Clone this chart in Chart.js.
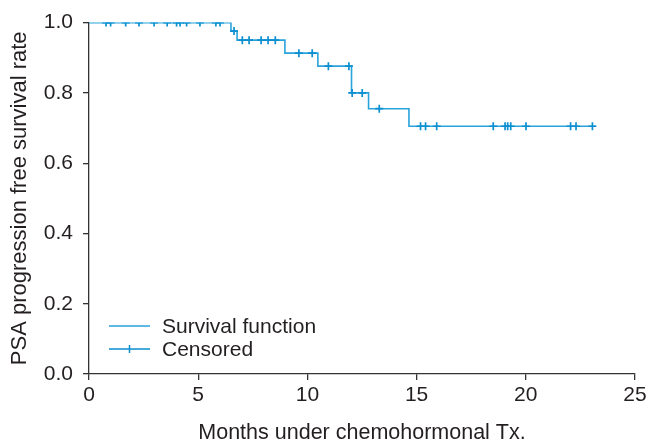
<!DOCTYPE html>
<html>
<head>
<meta charset="utf-8">
<script src="https://cdn.jsdelivr.net/npm/chart.js@4/dist/chart.umd.min.js"></script>
<style>
  body { margin: 0; background: #fff; }
  #wrap { width: 651px; height: 440px; }
</style>
</head>
<body>
<div id="wrap"><canvas id="kmChart" width="651" height="440"></canvas></div>
<script>
// Kaplan-Meier step points (time in months, survival)
const stepTimes = [0, 6.5, 6.78, 8.97, 10.48, 12.02, 12.8, 14.65, 23.2];
const stepSurvival = [1.0, 0.976, 0.95, 0.913, 0.876, 0.80, 0.755, 0.705, 0.705];

// censored observations
const censorTimes = [0.78, 0.99, 1.68, 2.29, 2.98, 3.58, 4.01, 4.17, 4.47, 5.08, 5.81, 6.0,
  6.64,
  7.02, 7.33, 7.88, 8.2, 8.53,
  9.61, 10.22,
  10.96, 11.9,
  12.05, 12.51,
  13.29,
  15.18, 15.41, 15.92, 18.51, 19.05, 19.17, 19.31, 20.01, 22.05, 22.3, 23.05];
const censorSurvival = [1, 1, 1, 1, 1, 1, 1, 1, 1, 1, 1, 1,
  0.976,
  0.95, 0.95, 0.95, 0.95, 0.95,
  0.913, 0.913,
  0.876, 0.876,
  0.80, 0.80,
  0.755,
  0.705, 0.705, 0.705, 0.705, 0.705, 0.705, 0.705, 0.705, 0.705, 0.705, 0.705];

const xTicks = [0, 5, 10, 15, 20, 25];
const yTicks = [0, 0.2, 0.4, 0.6, 0.8, 1.0];
const legendLabels = ['Survival function', 'Censored'];

const lineColor = '#29a3dc';
const markColor = '#0a8fd0';
const textColor = '#231f20';
const axisColor = '#333333';
const fontFamily = '"Liberation Sans", Arial, sans-serif';

// legend drawn inside the plot, bottom left
const insideLegend = {
  id: 'insideLegend',
  afterDraw(chart) {
    const ctx = chart.ctx;
    const area = chart.chartArea;
    const x0 = area.left + 20, x1 = area.left + 61;
    const rows = [area.bottom - 48, area.bottom - 25];
    ctx.save();
    ctx.font = '21px ' + fontFamily;
    ctx.fillStyle = textColor;
    ctx.textBaseline = 'middle';
    rows.forEach((y, i) => {
      ctx.strokeStyle = i === 0 ? lineColor : markColor;
      ctx.lineWidth = 1.5;
      ctx.beginPath();
      ctx.moveTo(x0, y);
      ctx.lineTo(x1, y);
      if (i === 1) {
        const cx = (x0 + x1) / 2;
        ctx.moveTo(cx, y - 4);
        ctx.lineTo(cx, y + 4);
      }
      ctx.stroke();
      ctx.fillText(legendLabels[i], area.left + 73, y + 1);
    });
    ctx.restore();
  }
};

const ctx = document.getElementById('kmChart').getContext('2d');
new Chart(ctx, {
  type: 'line',
  data: {
    datasets: [
      {
        label: legendLabels[0],
        data: stepTimes.map((t, i) => ({ x: t, y: stepSurvival[i] })),
        stepped: true,
        borderColor: lineColor,
        borderWidth: 1.6,
        pointRadius: 0,
        fill: false,
        order: 2
      },
      {
        type: 'scatter',
        label: legendLabels[1],
        data: censorTimes.map((t, i) => ({ x: t, y: censorSurvival[i] })),
        pointStyle: 'cross',
        pointRadius: 4,
        borderColor: markColor,
        backgroundColor: markColor,
        borderWidth: 1.7,
        showLine: false,
        order: 1
      }
    ]
  },
  options: {
    responsive: false,
    animation: false,
    layout: { padding: { left: 0, right: 16, top: 22, bottom: 0 } },
    plugins: {
      legend: { display: false },
      tooltip: { enabled: false }
    },
    scales: {
      x: {
        type: 'linear',
        min: 0,
        max: 25,
        afterBuildTicks: (scale) => { scale.ticks = xTicks.map(v => ({ value: v })); },
        afterFit: (scale) => { scale.height = 66; },
        grid: { drawOnChartArea: false, drawTicks: true, tickLength: 6, color: axisColor, lineWidth: 1.3 },
        border: { color: axisColor, width: 1.3 },
        ticks: { color: textColor, font: { size: 21, family: fontFamily }, padding: 3, maxRotation: 0 },
        title: {
          display: true,
          text: 'Months under chemohormonal Tx.',
          color: textColor,
          font: { size: 21.5, family: fontFamily },
          padding: { top: 0, bottom: -6 }
        }
      },
      y: {
        min: 0,
        max: 1,
        afterBuildTicks: (scale) => { scale.ticks = yTicks.map(v => ({ value: v })); },
        afterFit: (scale) => { scale.width = 89; },
        grid: { drawOnChartArea: false, drawTicks: true, tickLength: 6, color: axisColor, lineWidth: 1.3 },
        border: { color: axisColor, width: 1.3 },
        ticks: {
          color: textColor,
          font: { size: 21, family: fontFamily },
          padding: 10,
          callback: (v) => v.toFixed(1)
        },
        title: {
          display: true,
          text: 'PSA progression free survival rate',
          color: textColor,
          font: { size: 22, family: fontFamily },
          padding: { top: 7, bottom: 0 }
        }
      }
    }
  },
  plugins: [insideLegend]
});
</script>
</body>
</html>
